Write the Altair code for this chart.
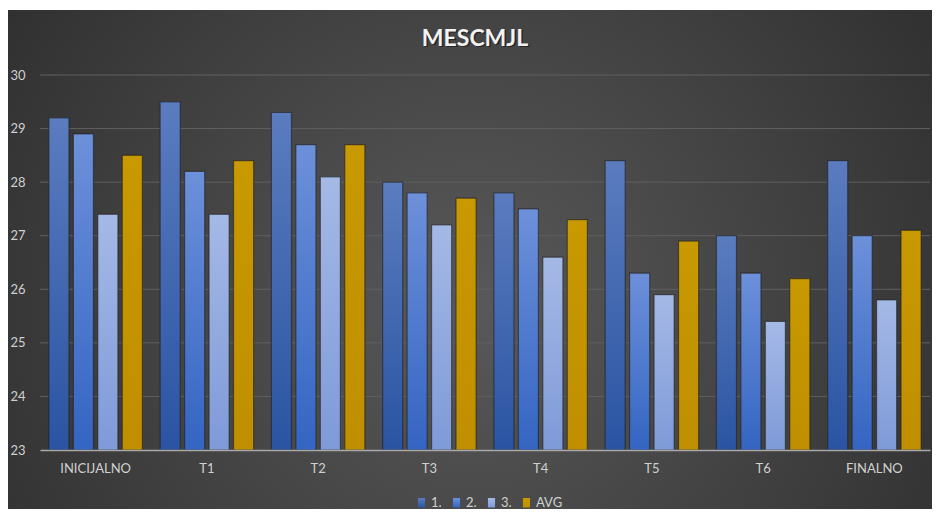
import altair as alt
import pandas as pd

categories = ["INICIJALNO", "T1", "T2", "T3", "T4", "T5", "T6", "FINALNO"]
series = ["1.", "2.", "3.", "AVG"]
s1 = [29.2, 29.5, 29.3, 28.0, 27.8, 28.4, 27.0, 28.4]
s2 = [28.9, 28.2, 28.7, 27.8, 27.5, 26.3, 26.3, 27.0]
s3 = [27.4, 27.4, 28.1, 27.2, 26.6, 25.9, 25.4, 25.8]
avg = [28.5, 28.4, 28.7, 27.7, 27.3, 26.9, 26.2, 27.1]
y_ticks = [23, 24, 25, 26, 27, 28, 29, 30]
title_text = "MESCMJL"

rows = []
for name, vals in zip(series, [s1, s2, s3, avg]):
    for c, v in zip(categories, vals):
        rows.append({"cat": c, "series": name, "value": v})
df = pd.DataFrame(rows)
grid_df = pd.DataFrame({"value": y_ticks[1:]})


def grad(top, bottom):
    return alt.ExprRef(
        expr=(
            "{gradient: 'linear', x1: 0, y1: 0, x2: 0, y2: 1, stops: ["
            f"{{offset: 0, color: '{top}'}}, {{offset: 1, color: '{bottom}'}}]}}"
        )
    )


color_range = [
    grad("#5b7cbf", "#2a54a2"),
    grad("#6d90da", "#3465c2"),
    grad("#a5b9e6", "#7e9ad8"),
    grad("#c99900", "#bf8f00"),
]

W, H = 890, 375
label_color = "#D0D0D0"
y_scale = alt.Scale(domain=[23, 30], zero=False, nice=False)
y_axis = alt.Axis(
    title=None, values=y_ticks, ticks=False, domain=False, grid=False,
    zindex=2, format="d",
    labelColor=label_color, labelFontSize=13, labelPadding=15,
)

bg = alt.Chart(pd.DataFrame({"k": [0]})).mark_rect(
    fill=alt.RadialGradient(
        gradient="radial",
        x1=0.5, y1=0.55, r1=0,
        x2=0.5, y2=0.55, r2=0.75,
        stops=[
            alt.GradientStop(offset=0, color="#595959"),
            alt.GradientStop(offset=1, color="#262626"),
        ],
    )
).encode(
    x=alt.value(-32), x2=alt.value(W + 2),
    y=alt.value(-65), y2=alt.value(H + 59),
)

grid = alt.Chart(grid_df).mark_rule(color="#606060", strokeWidth=1).encode(
    y=alt.Y("value:Q", scale=y_scale, axis=y_axis),
    x=alt.value(0), x2=alt.value(W),
)

bars = alt.Chart(df).mark_bar(
    stroke="#1c1c1c", strokeWidth=1.2, strokeOpacity=0.55
).encode(
    x=alt.X(
        "cat:N", sort=categories,
        scale=alt.Scale(domain=categories, paddingInner=0.16, paddingOuter=0.08),
        axis=alt.Axis(
            title=None, labelAngle=0, ticks=False, grid=False, zindex=2,
            domainColor="#A8A8A8", domainWidth=1.3,
            labelColor=label_color, labelFontSize=13, labelPadding=12,
        ),
    ),
    xOffset=alt.XOffset(
        "series:N", sort=series,
        scale=alt.Scale(domain=series, paddingInner=0.18, paddingOuter=0),
    ),
    y=alt.Y("value:Q", scale=y_scale, axis=y_axis),
    y2=alt.datum(23),
    color=alt.Color(
        "series:N", sort=series,
        scale=alt.Scale(domain=series, range=color_range),
        legend=alt.Legend(
            title=None, orient="none", direction="horizontal",
            legendX=375, legendY=421, zindex=2,
            labelColor=label_color, labelFontSize=13, labelOffset=3,
            symbolType="M-0.75,-1H0.75V1H-0.75Z", symbolSize=90,
            symbolStrokeWidth=0, columnPadding=8,
        ),
    ),
)

title_df = pd.DataFrame({"t": [title_text]})
shadow = alt.Chart(title_df).mark_text(
    fontSize=23, fontWeight="bold", color="#111111", opacity=0.6,
    align="center", baseline="middle",
).encode(text="t:N", x=alt.value(436.5), y=alt.value(-35))
title = alt.Chart(title_df).mark_text(
    fontSize=23, fontWeight="bold", color="#F2F2F2",
    align="center", baseline="middle",
).encode(text="t:N", x=alt.value(435), y=alt.value(-36.5))

chart = alt.layer(bg, grid, bars, shadow, title).properties(
    width=W, height=H,
    padding={"left": 32, "top": 67, "right": 2, "bottom": 59},
    autosize=alt.AutoSizeParams(type="none"),
    background="white",
).configure(font="Lato").configure_view(stroke=None)

chart.save("out.html", embed_options={"renderer": "svg", "actions": False})
